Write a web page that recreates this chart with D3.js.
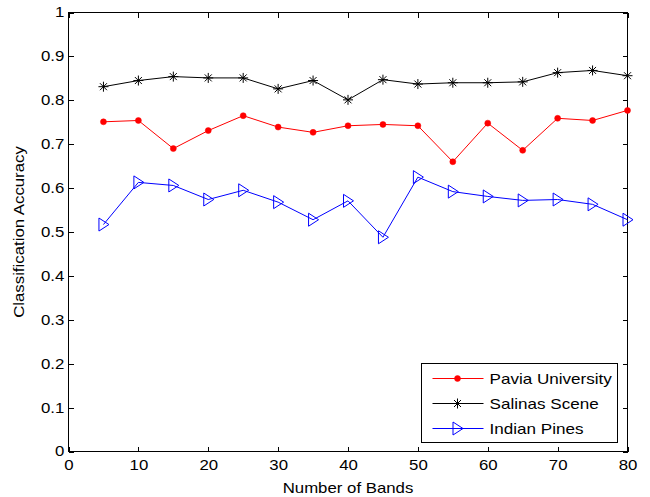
<!DOCTYPE html>
<html>
<head>
<meta charset="UTF-8">
<title>Classification Accuracy vs Number of Bands</title>
<style>
body { margin:0; background:#fff; }
svg { display:block; font-family: "Liberation Sans", Arial, sans-serif; }
.axis path, .axis line { stroke:#000; stroke-width:1px; shape-rendering:crispEdges; }
.axis text { font-size:14px; fill:#000; }
.label { font-size:14px; fill:#000; }
.legend text { font-size:14px; fill:#000; }
</style>
</head>
<body>
<svg width="650" height="497"></svg>
<script src="https://cdn.jsdelivr.net/npm/d3@7"></script>
<script>
const bands = [5,10,15,20,25,30,35,40,45,50,55,60,65,70,75,80];
const pavia = [0.751,0.754,0.690,0.731,0.765,0.739,0.727,0.742,0.745,0.742,0.660,0.748,0.686,0.759,0.754,0.777];
const salinas = [0.831,0.845,0.854,0.851,0.851,0.826,0.845,0.801,0.847,0.837,0.840,0.840,0.842,0.863,0.868,0.856];
const indian = [0.517,0.613,0.606,0.574,0.595,0.568,0.528,0.571,0.488,0.625,0.592,0.581,0.572,0.574,0.563,0.528];
const xTicks = [0,10,20,30,40,50,60,70,80];
const yTicks = [0,0.1,0.2,0.3,0.4,0.5,0.6,0.7,0.8,0.9,1];

const series = [
  { name:'Pavia University', values:pavia, color:'#ff0000', marker:'dot' },
  { name:'Salinas Scene', values:salinas, color:'#000000', marker:'star' },
  { name:'Indian Pines', values:indian, color:'#0000ff', marker:'tri' }
];

const svg = d3.select('svg');
const pLeft = 68.5, pTop = 12.5, pRight = 627.5, pBottom = 451.5;
const x = d3.scaleLinear().domain([0,80]).range([pLeft, pRight]);
const y = d3.scaleLinear().domain([0,1]).range([pBottom, pTop]);
const tk = 5;
const wide = 1.2; // text in the original is rendered wide

// box
svg.append('rect').attr('x',pLeft).attr('y',pTop).attr('width',pRight-pLeft).attr('height',pBottom-pTop)
  .attr('fill','none').attr('stroke','#000').attr('shape-rendering','crispEdges');

const fmt = d => d === 0 || d === 1 ? String(d) : d3.format('.1f')(d);

// axes (inward ticks) bottom/left with labels, top/right without
svg.append('g').attr('class','axis').attr('transform',`translate(0,${pBottom})`)
  .call(d3.axisBottom(x).tickValues(xTicks).tickSizeInner(-tk).tickSizeOuter(0).tickPadding(9).tickFormat(d3.format('d')))
  .call(g => g.select('.domain').remove())
  .call(g => g.selectAll('text').attr('transform',`scale(${wide},1)`));
svg.append('g').attr('class','axis').attr('transform',`translate(0,${pTop})`)
  .call(d3.axisTop(x).tickValues(xTicks).tickSizeInner(-tk).tickSizeOuter(0).tickFormat(''))
  .call(g => g.select('.domain').remove());
svg.append('g').attr('class','axis').attr('transform',`translate(${pLeft},0)`)
  .call(d3.axisLeft(y).tickValues(yTicks).tickSizeInner(-tk).tickSizeOuter(0).tickPadding(3.5).tickFormat(fmt))
  .call(g => g.select('.domain').remove())
  .call(g => g.selectAll('text').attr('transform',`scale(${wide},1)`));
svg.append('g').attr('class','axis').attr('transform',`translate(${pRight},0)`)
  .call(d3.axisRight(y).tickValues(yTicks).tickSizeInner(-tk).tickSizeOuter(0).tickFormat(''))
  .call(g => g.select('.domain').remove());

// axis labels
svg.append('text').attr('class','label')
  .attr('transform',`translate(${(pLeft+pRight)/2},493) scale(${wide},1)`)
  .attr('text-anchor','middle').text('Number of Bands');
svg.append('text').attr('class','label')
  .attr('transform',`translate(24,${(pTop+pBottom)/2}) rotate(-90) scale(${wide},1)`)
  .attr('text-anchor','middle').text('Classification Accuracy');

// markers
function drawMarker(g, type, color) {
  if (type === 'dot') {
    g.append('circle').attr('r',3).attr('fill',color).attr('stroke',color).attr('stroke-width',0.5);
  } else if (type === 'star') {
    g.append('path').attr('d','M-5,0H5M0,-5V5M-3.5,-3.5L3.5,3.5M-3.5,3.5L3.5,-3.5')
      .attr('stroke',color).attr('stroke-width',1).attr('fill','none');
  } else {
    g.append('path').attr('d','M-4.5,-6.5L5.5,0L-4.5,6.5Z')
      .attr('stroke',color).attr('stroke-width',1).attr('fill','none');
  }
}

const line = d3.line().x(d => x(d[0])).y(d => y(d[1]));
series.forEach(s => {
  const pts = bands.map((b,i) => [b, s.values[i]]);
  svg.append('path').datum(pts).attr('d',line).attr('fill','none')
    .attr('stroke',s.color).attr('stroke-width',1);
  svg.append('g').selectAll('g').data(pts).enter().append('g')
    .attr('transform', d => `translate(${x(d[0])},${y(d[1])})`)
    .each(function(){ drawMarker(d3.select(this), s.marker, s.color); });
});

// legend
const lg = svg.append('g').attr('class','legend');
const lx = 421.5, ly = 363.5, lw = 196, lh = 79;
lg.append('rect').attr('x',lx).attr('y',ly).attr('width',lw).attr('height',lh)
  .attr('fill','#fff').attr('stroke','#000').attr('shape-rendering','crispEdges');
series.forEach((s,i) => {
  const yy = ly + 15 + i*25;
  lg.append('line').attr('x1',lx+11).attr('x2',lx+62).attr('y1',yy).attr('y2',yy)
    .attr('stroke',s.color).attr('stroke-width',1);
  const m = lg.append('g').attr('transform',`translate(${lx+36},${yy})`);
  drawMarker(m, s.marker, s.color);
  lg.append('text').attr('transform',`translate(${lx+68},${yy+5}) scale(1.22,1)`).text(s.name);
});
</script>
</body>
</html>
